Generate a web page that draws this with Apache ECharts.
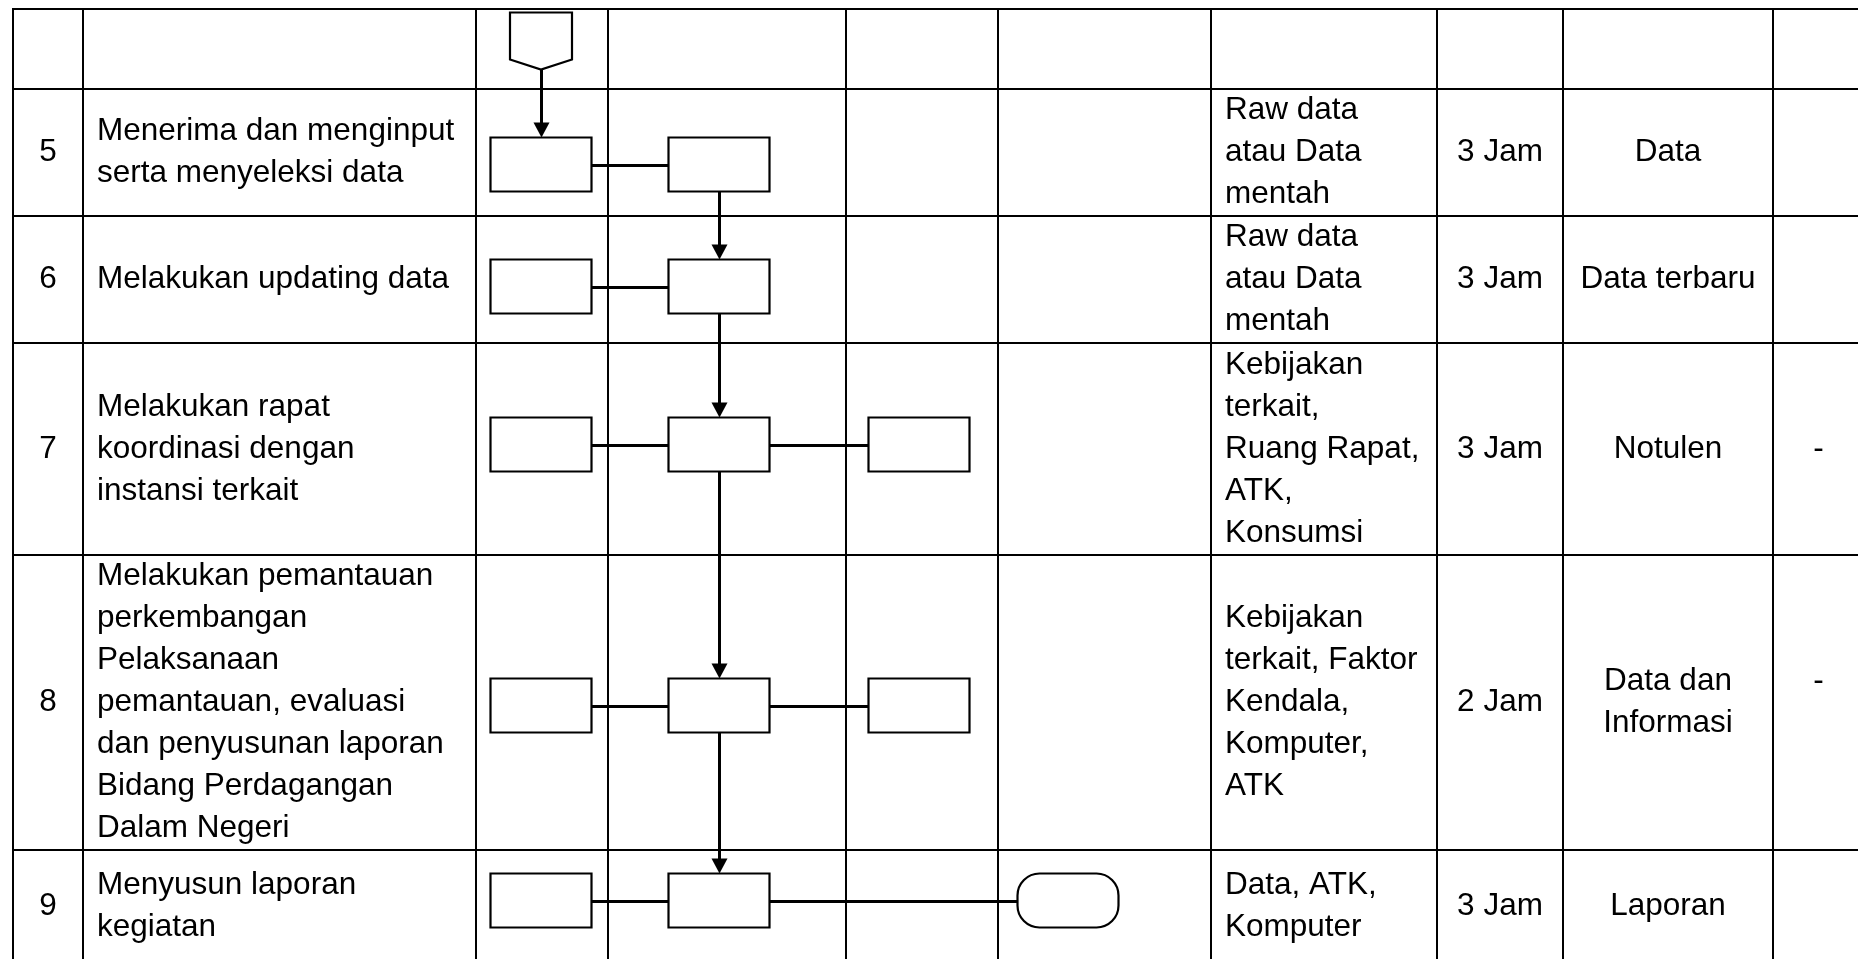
<!DOCTYPE html>
<html>
<head>
<meta charset="utf-8">
<script src="https://cdn.jsdelivr.net/npm/echarts@6/dist/echarts.min.js"></script>
<style>
html,body{margin:0;padding:0;background:#fff;overflow:hidden}
#c{width:1858px;height:959px}
</style>
</head>
<body>
<div id="c"></div>
<script>
// ---------- table content ----------
const rowNumbers = ['', '5', '6', '7', '8', '9'];
const activities = [
  '',
  'Menerima dan menginput\nserta menyeleksi data',
  'Melakukan updating data',
  'Melakukan rapat\nkoordinasi dengan\ninstansi terkait',
  'Melakukan pemantauan\nperkembangan\nPelaksanaan\npemantauan, evaluasi\ndan penyusunan laporan\nBidang Perdagangan\nDalam Negeri',
  'Menyusun laporan\nkegiatan'
];
const resources = [
  '',
  'Raw data\natau Data\nmentah',
  'Raw data\natau Data\nmentah',
  'Kebijakan\nterkait,\nRuang Rapat,\nATK,\nKonsumsi',
  'Kebijakan\nterkait, Faktor\nKendala,\nKomputer,\nATK',
  'Data, ATK,\nKomputer'
];
const durations = ['', '3 Jam', '3 Jam', '3 Jam', '2 Jam', '3 Jam'];
const outputs = ['', 'Data', 'Data terbaru', 'Notulen', 'Data dan\nInformasi', 'Laporan'];
const notes = ['', '', '', '-', '-\n\u00a0', ''];

// ---------- flowchart structure ----------
// [row, lane, shape]
const flowNodes = [
  [0, 0, 'connector'],
  [1, 0, 'process'], [1, 1, 'process'],
  [2, 0, 'process'], [2, 1, 'process'],
  [3, 0, 'process'], [3, 1, 'process'], [3, 2, 'process'],
  [4, 0, 'process'], [4, 1, 'process'], [4, 2, 'process'],
  [5, 0, 'process'], [5, 1, 'process'], [5, 3, 'terminator']
];
// [fromNode, toNode, kind]
const flowLinks = [
  [0, 1, 'arrow'], [1, 2, 'line'], [2, 4, 'arrow'], [3, 4, 'line'],
  [4, 6, 'arrow'], [5, 6, 'line'], [6, 7, 'line'], [6, 9, 'arrow'],
  [8, 9, 'line'], [9, 10, 'line'], [9, 12, 'arrow'], [11, 12, 'line'],
  [12, 13, 'line']
];

// ---------- layout (table units) ----------
const colEdges = [13, 83, 476, 608, 846, 998, 1211, 1437, 1563, 1773, 1864];
const rowEdges = [9, 89, 216, 343, 555, 850, 962];
const laneCenters = [541, 719, 919, 1068];
const nodeShift = [-9, 11, 6, -5, 2, -6];
const BOX_W = 101, BOX_H = 54;
const FONT = '"Liberation Sans", Arial, sans-serif';
const textCols = [
  {arr: rowNumbers, col: 0, align: 'center'},
  {arr: activities, col: 1, align: 'left', pad: 14},
  {arr: resources, col: 6, align: 'left', pad: 14},
  {arr: durations, col: 7, align: 'center'},
  {arr: outputs, col: 8, align: 'center'},
  {arr: notes, col: 9, align: 'center'}
];

function rowCenter(r) { return (rowEdges[r] + rowEdges[r + 1]) / 2; }

function nodeGeom(i) {
  const [r, lane, shape] = flowNodes[i];
  const cx = laneCenters[lane];
  const cy = Math.round(rowCenter(r) + nodeShift[r]) + 0.5;
  if (shape === 'connector') {
    return {shape, cx, cy, x1: cx - 31, x2: cx + 31, y1: cy - 28, shoulder: cy + 19, y2: cy + 29};
  }
  const h = shape === 'terminator' ? 54 : BOX_H;
  return {shape, cx, cy, x1: cx - BOX_W / 2, x2: cx + BOX_W / 2, y1: cy - h / 2, y2: cy + h / 2};
}

// data lists for series
const gridLineData = [];
rowEdges.forEach((_, i) => gridLineData.push([0, i]));
colEdges.forEach((_, i) => gridLineData.push([1, i]));

const textData = [];
textCols.forEach((tc, k) => {
  tc.arr.forEach((t, r) => { if (t) textData.push([k, r]); });
});

const nodeData = flowNodes.map((_, i) => [i]);
const linkData = flowLinks.map((_, i) => [i]);

const chart = echarts.init(document.getElementById('c'));

const option = {
  animation: false,
  backgroundColor: '#ffffff',
  grid: {left: 0, top: 0, right: 0, bottom: 0},
  xAxis: {type: 'value', min: 0, max: 1858, show: false},
  yAxis: {type: 'value', min: 0, max: 959, inverse: true, show: false},
  series: [
    {
      type: 'custom',
      name: 'grid',
      coordinateSystem: 'cartesian2d',
      data: gridLineData,
      silent: true,
      clip: false,
      renderItem: function (params, api) {
        const [dir, idx] = gridLineData[params.dataIndex];
        let a, b;
        if (dir === 0) {
          a = api.coord([colEdges[0] - 1, rowEdges[idx]]);
          b = api.coord([colEdges[colEdges.length - 1], rowEdges[idx]]);
        } else {
          a = api.coord([colEdges[idx], rowEdges[0] - 1]);
          b = api.coord([colEdges[idx], rowEdges[rowEdges.length - 1]]);
        }
        return {
          type: 'line',
          shape: {x1: a[0], y1: a[1], x2: b[0], y2: b[1]},
          style: {stroke: '#000', lineWidth: 2}
        };
      }
    },
    {
      type: 'custom',
      name: 'text',
      coordinateSystem: 'cartesian2d',
      data: textData,
      silent: true,
      clip: false,
      renderItem: function (params, api) {
        const [k, r] = textData[params.dataIndex];
        const tc = textCols[k];
        const left = colEdges[tc.col], right = colEdges[tc.col + 1];
        const x = tc.align === 'left' ? left + tc.pad : (left + right) / 2;
        const p = api.coord([x, rowCenter(r)]);
        return {
          type: 'text',
          x: p[0], y: p[1],
          style: {
            text: tc.arr[r],
            fill: '#000',
            fontSize: 31.5,
            fontFamily: FONT,
            lineHeight: 42,
            align: tc.align,
            verticalAlign: 'middle'
          }
        };
      }
    },
    {
      type: 'custom',
      name: 'links',
      coordinateSystem: 'cartesian2d',
      data: linkData,
      silent: true,
      clip: false,
      renderItem: function (params, api) {
        const [f, t, kind] = flowLinks[params.dataIndex];
        const A = nodeGeom(f), B = nodeGeom(t);
        if (kind === 'arrow') {
          const x = A.cx + 0.5;
          const p1 = api.coord([x, A.y2]);
          const tip = api.coord([x, B.y1]);
          const base = api.coord([x, B.y1 - 15]);
          const bl = api.coord([x - 8, B.y1 - 15]);
          const br = api.coord([x + 8, B.y1 - 15]);
          return {
            type: 'group',
            children: [
              {type: 'line', shape: {x1: p1[0], y1: p1[1], x2: base[0], y2: base[1] + 1},
               style: {stroke: '#000', lineWidth: 3}},
              {type: 'polygon', shape: {points: [bl, br, tip]}, style: {fill: '#000'}}
            ]
          };
        }
        const y = Math.round((A.cy + B.cy) / 2) + 0.5;
        const p1 = api.coord([A.x2, y]);
        const p2 = api.coord([B.x1, y]);
        return {
          type: 'line',
          shape: {x1: p1[0], y1: p1[1], x2: p2[0], y2: p2[1]},
          style: {stroke: '#000', lineWidth: 3}
        };
      }
    },
    {
      type: 'custom',
      name: 'nodes',
      coordinateSystem: 'cartesian2d',
      data: nodeData,
      silent: true,
      clip: false,
      renderItem: function (params, api) {
        const g = nodeGeom(params.dataIndex);
        const style = {fill: '#fff', stroke: '#000', lineWidth: 2.2};
        if (g.shape === 'connector') {
          const pts = [
            api.coord([g.x1, g.y1]), api.coord([g.x2, g.y1]),
            api.coord([g.x2, g.shoulder]), api.coord([g.cx, g.y2]),
            api.coord([g.x1, g.shoulder])
          ];
          return {type: 'polygon', shape: {points: pts}, style: style};
        }
        const a = api.coord([g.x1, g.y1]);
        const b = api.coord([g.x2, g.y2]);
        return {
          type: 'rect',
          shape: {x: a[0], y: a[1], width: b[0] - a[0], height: b[1] - a[1],
                  r: g.shape === 'terminator' ? 22 : 0},
          style: style
        };
      }
    }
  ]
};

chart.setOption(option);
</script>
</body>
</html>
